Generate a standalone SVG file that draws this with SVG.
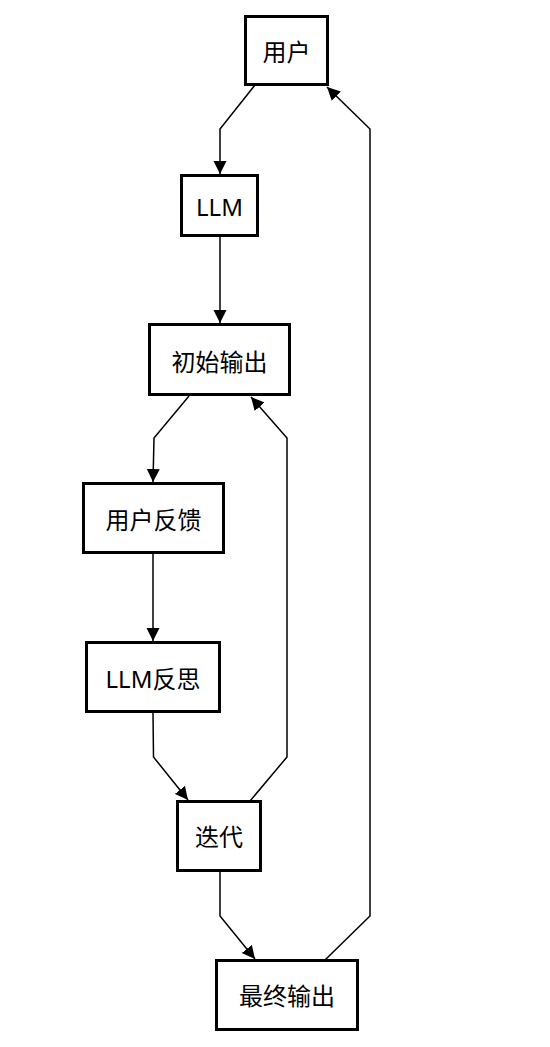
<svg xmlns="http://www.w3.org/2000/svg" width="550" height="1047" viewBox="0 0 550 1047">
<style>
.box{fill:#fff;stroke:#000;stroke-width:3}
.lbl{font-family:"Noto Sans","Noto Sans CJK SC",sans-serif;font-size:24px;text-anchor:middle;fill:#000}
.edge{fill:none;stroke:#000;stroke-width:1.5;marker-end:url(#arr)}
</style>
<defs>
<marker id="arr" markerUnits="userSpaceOnUse" markerWidth="14" markerHeight="14" viewBox="0 0 14 14" refX="13" refY="7" orient="auto">
<path d="M0,0.5 L13,7 L0,13.5 Z" fill="#000"/>
</marker>
</defs>
<rect width="550" height="1047" fill="#fff"/>
<g id="connectors">
<path class="edge" d="M255,85 L220,129 L220,174"/>
<path class="edge" d="M220,237 L220,323"/>
<path class="edge" d="M189,396 L154,438 L153,482"/>
<path class="edge" d="M153,554 L153,641"/>
<path class="edge" d="M153,713 L153.5,757 L188,800"/>
<path class="edge" d="M250,801 L287,757 L287,438 L251,397"/>
<path class="edge" d="M220,872 L220,916 L255,959"/>
<path class="edge" d="M325,960 L370,916 L370,129 L327,87"/>
</g>
<g id="n_user"><rect class="box" x="245.5" y="16.5" width="82" height="68"/><text class="lbl" x="286.5" y="61">用户</text></g>
<g id="n_llm"><rect class="box" x="181.5" y="175.5" width="76" height="60"/><text class="lbl" x="219.5" y="216">LLM</text></g>
<g id="n_init"><rect class="box" x="149.5" y="324.5" width="140" height="70"/><text class="lbl" x="219.5" y="370.5">初始输出</text></g>
<g id="n_feedback"><rect class="box" x="83.5" y="483.5" width="140" height="69"/><text class="lbl" x="153.5" y="529">用户反馈</text></g>
<g id="n_reflect"><rect class="box" x="86.5" y="642.5" width="133" height="69"/><text class="lbl" x="153" y="688">LLM反思</text></g>
<g id="n_iter"><rect class="box" x="177.5" y="801.5" width="83" height="69"/><text class="lbl" x="219" y="846">迭代</text></g>
<g id="n_final"><rect class="box" x="216.5" y="960.5" width="141" height="69"/><text class="lbl" x="287" y="1005">最终输出</text></g>
</svg>
